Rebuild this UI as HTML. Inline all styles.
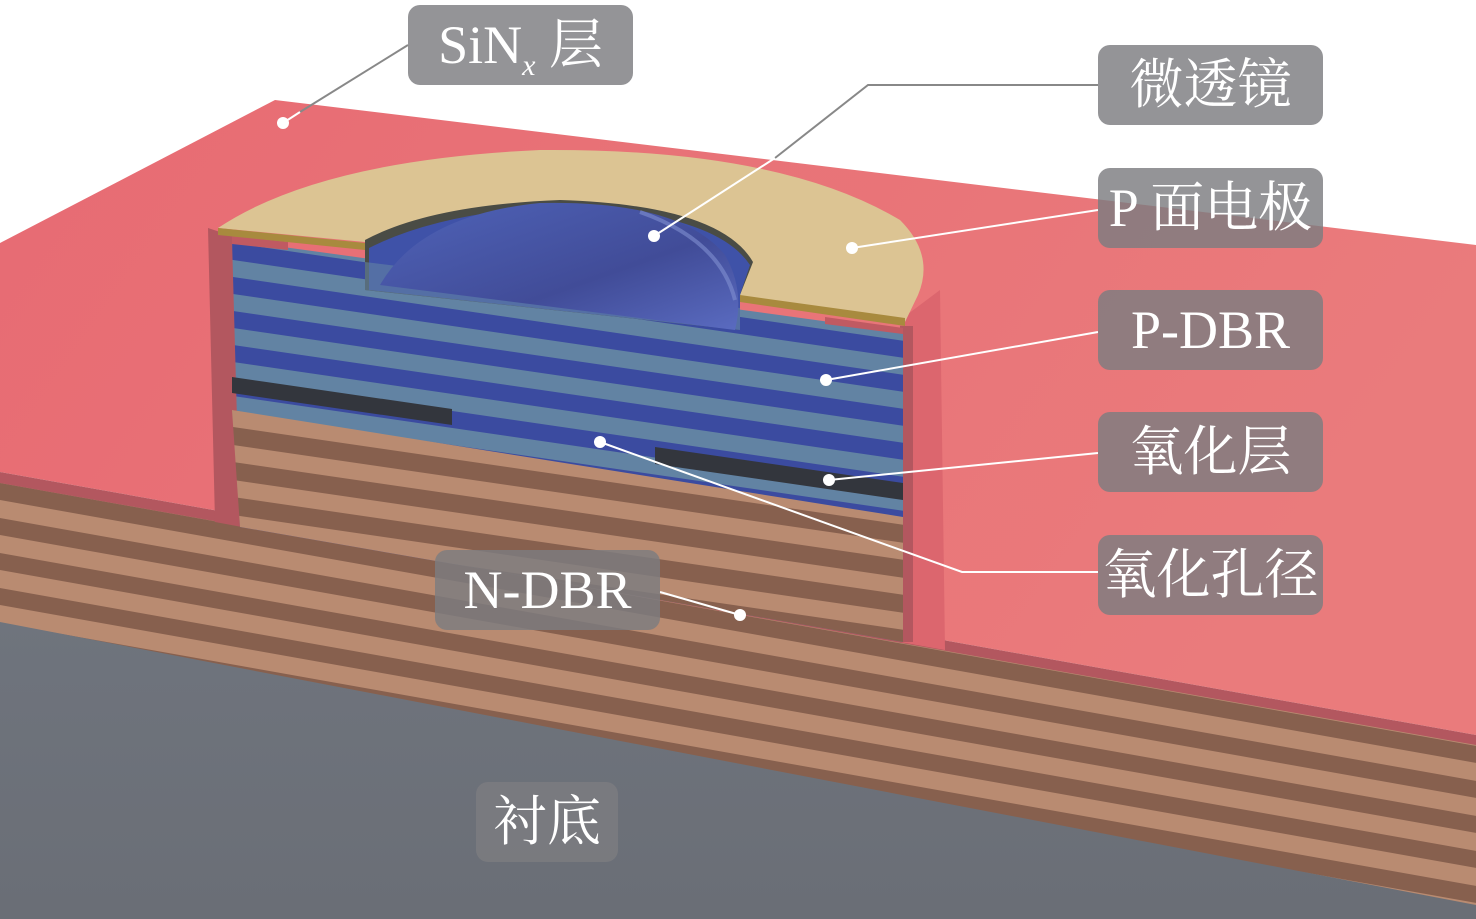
<!DOCTYPE html>
<html><head><meta charset="utf-8"><style>
html,body{margin:0;padding:0;background:#fff;}
.lb{position:absolute;background:rgba(125,125,128,0.82);border-radius:12px;color:#fff;font-family:"Liberation Serif","Noto Serif CJK SC",serif;font-size:54px;text-align:center;line-height:80px;height:80px;}
</style></head><body>
<div style="position:relative;width:1476px;height:919px;overflow:hidden;">
<svg width="1476" height="919" style="position:absolute;left:0;top:0">
<defs>
<pattern id="outer" patternUnits="userSpaceOnUse" width="1476" height="35" y="483" patternTransform="skewY(10.1)">
<rect width="1476" height="35" fill="#b98b71"/><rect width="1476" height="17" fill="#87604e"/></pattern>
<pattern id="mblue" patternUnits="userSpaceOnUse" width="1476" height="34" y="209" patternTransform="skewY(8.3)">
<rect width="1476" height="34" fill="#6283a3"/><rect width="1476" height="17" fill="#3b4ba0"/></pattern>
<pattern id="mbrown" patternUnits="userSpaceOnUse" width="1476" height="35" y="376" patternTransform="skewY(8.3)">
<rect width="1476" height="35" fill="#87604e"/><rect width="1476" height="17" fill="#b98b71"/></pattern>
<linearGradient id="red" x1="0" y1="0" x2="1" y2="0.3"><stop offset="0" stop-color="#e76b73"/><stop offset="1" stop-color="#ea7b7c"/></linearGradient>
<linearGradient id="lens" x1="0" y1="0" x2="1" y2="1"><stop offset="0" stop-color="#4f63b8"/><stop offset="0.6" stop-color="#414c98"/><stop offset="1" stop-color="#5a6bc0"/></linearGradient>
<linearGradient id="gray" x1="0" y1="0" x2="0" y2="1"><stop offset="0" stop-color="#6f747d"/><stop offset="1" stop-color="#6a6e76"/></linearGradient>
</defs>
<polygon points="0,620 1476,900 1476,919 0,919" fill="url(#gray)"/>
<polygon points="0,478 1476,738 1476,905 0,622" fill="url(#outer)"/>
<polygon points="0,243 275,100 1476,245 1476,735 0,472" fill="url(#red)"/>
<polygon points="0,472 1476,735 1476,745 0,483" fill="#b3575f"/>
<polygon points="208,228 232,236 242,527 215,522" fill="#b3575f"/>
<polygon points="900,320 940,290 945,650 900,642" fill="#dc666e"/>
<polygon points="900,326 913,326 913,642 900,642" fill="#b3575f"/>
<polygon points="232,240 903,332 903,642 240,527" fill="url(#mblue)"/>
<polygon points="232,410 903,517 903,642 240,527" fill="url(#mbrown)"/>
<polygon points="232,377 452,409 452,425 232,393" fill="#33363d"/>
<polygon points="655,447 903,483 903,500 655,464" fill="#33363d"/>
<polygon points="232,236 288,242 288,250 232,244" fill="#c05a62"/>
<polygon points="825,317 903,328 903,334 825,324" fill="#c05a62"/>
<path d="M218,228 Q320,160 540,150 Q780,148 900,220 Q935,255 918,295 L905,322 L740,298 L740,293 L365,242 Z" fill="#dcc493"/>
<polygon points="218,228 365,243 365,250 218,235" fill="#a88a3e"/>
<polygon points="740,295 905,318 905,326 740,302" fill="#a88a3e"/>
<path d="M365,240 Q430,205 560,200 Q720,205 753,262 L740,295 L740,330 L365,290 Z" fill="#4a4c45"/>
<path d="M369,248 Q440,212 560,206 Q715,212 750,265 L740,295 L740,330 L369,290 Z" fill="#3f52a8"/>
<path d="M365,262 L740,308 L740,330 L365,290 Z" fill="#6283a3" opacity="0.6"/>
<path d="M380,285 Q420,215 540,203 Q680,200 725,255 Q745,290 735,330 Z" fill="url(#lens)"/>
<path d="M640,212 Q720,240 735,300" stroke="#8090d0" stroke-width="4" fill="none" opacity="0.6"/>
<g stroke-width="2" fill="none">
<polyline points="408,45 300,112" stroke="#888"/><line x1="300" y1="112" x2="283" y2="123" stroke="#fff"/>
<polyline points="1098,85 868,85 775,158" stroke="#888"/><line x1="775" y1="158" x2="654" y2="236" stroke="#fff"/>
<line x1="1098" y1="210" x2="852" y2="248" stroke="#fff"/>
<line x1="1098" y1="332" x2="826" y2="380" stroke="#fff"/>
<line x1="1098" y1="453" x2="829" y2="480" stroke="#fff"/>
<polyline points="1098,572 962,572 600,442" stroke="#fff"/>
<line x1="660" y1="592" x2="740" y2="615" stroke="#fff"/>
</g>
<g fill="#fff">
<circle cx="283" cy="123" r="6"/><circle cx="654" cy="236" r="6"/><circle cx="852" cy="248" r="6"/>
<circle cx="826" cy="380" r="6"/><circle cx="829" cy="480" r="6"/><circle cx="600" cy="442" r="6"/><circle cx="740" cy="615" r="6"/>
</g>
</svg>
<div class="lb" style="left:408px;top:5px;width:225px;">SiN<sub style="font-size:30px;font-style:italic;line-height:0">x</sub> 层</div>
<div class="lb" style="left:1098px;top:45px;width:225px;">微透镜</div>
<div class="lb" style="left:1098px;top:168px;width:225px;">P 面电极</div>
<div class="lb" style="left:1098px;top:290px;width:225px;">P-DBR</div>
<div class="lb" style="left:1098px;top:412px;width:225px;">氧化层</div>
<div class="lb" style="left:1098px;top:535px;width:225px;">氧化孔径</div>
<div class="lb" style="left:435px;top:550px;width:225px;">N-DBR</div>
<div class="lb" style="left:476px;top:782px;width:142px;">衬底</div>
</div>
</body></html>
